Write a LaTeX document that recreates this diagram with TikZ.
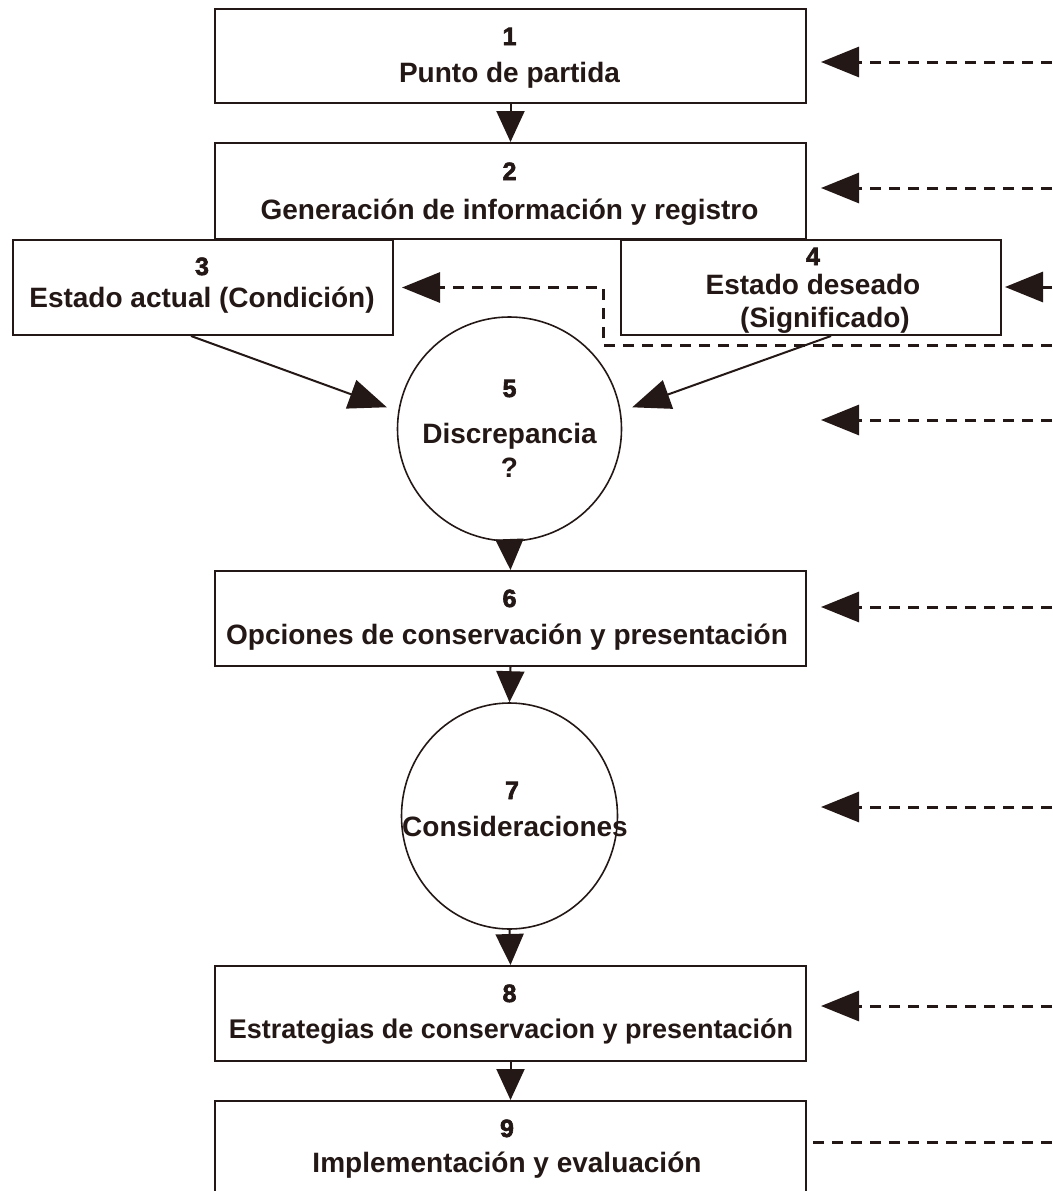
\documentclass[tikz,border=0pt]{standalone}
\usepackage{fontspec}
\setmainfont{Liberation Sans}
\newfontfamily\numfont[UprightFont={* Bold},FakeBold=2.5]{Liberation Sans}
\usetikzlibrary{arrows.meta,shapes.geometric}
\definecolor{ink}{HTML}{231815}
\begin{document}
\begin{tikzpicture}[x=1pt,y=-1pt,
 box/.style={draw=ink,line width=2pt,fill=white,anchor=north west,inner sep=0pt},
 num/.style={anchor=base,text=ink,font=\numfont\fontsize{25}{27}\selectfont,inner sep=0pt},
 lab/.style={anchor=base,text=ink,font=\bfseries\fontsize{28}{30}\selectfont,inner sep=0pt},
 flow/.style={draw=ink,line width=2pt,-{Triangle[length=31pt,width=28pt]}},
 flowbig/.style={draw=ink,line width=2pt,-{Triangle[length=38pt,width=30pt]}},
 fb/.style={draw=ink,line width=3pt,dash pattern=on 11pt off 8pt,-{Triangle[length=38pt,width=30pt]}},
 fbline/.style={draw=ink,line width=3pt,dash pattern=on 11pt off 8pt},
]
\useasboundingbox (0,0) rectangle (1052,1191);
\clip (0,0) rectangle (1052,1191);

% boxes
\node[box,minimum width=591pt,minimum height=94pt] (b1) at (214,8) {};
\node[box,minimum width=591pt,minimum height=96pt] (b2) at (214,142) {};
\node[box,minimum width=380pt,minimum height=95pt] (b3) at (12,239) {};
\node[box,minimum width=380pt,minimum height=95pt] (b4) at (620,239) {};
\node[draw=ink,line width=1.6pt,circle,minimum size=224pt,inner sep=0pt] (c5) at (509.5,429) {};
\node[box,minimum width=591pt,minimum height=95pt] (b6) at (214,570) {};
\node[draw=ink,line width=1.6pt,ellipse,minimum width=216pt,minimum height=226pt,inner sep=0pt] (c7) at (509.5,816) {};
\node[box,minimum width=591pt,minimum height=95pt] (b8) at (214,965) {};
\node[box,minimum width=591pt,minimum height=100pt] (b9) at (214,1100) {};

% texts
\node[num] (t1n) at (509.5,45) {1};
\node[lab] (t1) at (509.5,82) {Punto de partida};
\node[num] (t2n) at (509.5,180) {2};
\node[lab] (t2) at (509.5,219) {Generación de información y registro};
\node[num] (t3n) at (202,275) {3};
\node[lab] (t3) at (202,307) {Estado actual (Condición)};
\node[num] (t4n) at (813,265) {4};
\node[lab] (t4a) at (813,294) {Estado deseado};
\node[lab] (t4b) at (825,327) {(Significado)};
\node[num] (t5n) at (509.5,397) {5};
\node[lab] (t5) at (509.5,443) {Discrepancia};
\node[lab] (t5q) at (509.5,477) {?};
\node[num] (t6n) at (509.5,607) {6};
\node[lab] (t6) at (507,644) {Opciones de conservación y presentación};
\node[num] (t7n) at (512,799) {7};
\node[lab] (t7) at (515,836) {Consideraciones};
\node[num] (t8n) at (509.5,1002) {8};
\node[lab,font=\bfseries\fontsize{27}{29}\selectfont] (t8) at (511,1038) {Estrategias de conservacion y presentación};
\node[num] (t9n) at (507,1137) {9};
\node[lab] (t9) at (507,1172) {Implementación y evaluación};

% main flow
\draw[flow] (b1.south) -- (b2.north);
\draw[flowbig,shorten >=12pt] ([xshift=-12pt]b3.south) -- (c5.171);
\draw[flowbig,shorten >=12pt] ([xshift=20pt]b4.south) -- (c5.9);
\draw[flow] (c5.south) -- (b6.north);
\draw[flow] (b6.south) -- (c7.north);
\draw[flow] (c7.south) -- (b8.north);
\draw[flow] (b8.south) -- (b9.north);

% feedback (right side)
\coordinate (r1) at (1052,62);
\coordinate (r2) at (1052,188);
\coordinate (r3) at (1052,287);
\coordinate (r4) at (1052,345);
\coordinate (r5) at (1052,420);
\coordinate (r6) at (1052,607);
\coordinate (r7) at (1052,807);
\coordinate (r8) at (1052,1006);
\coordinate (r9) at (1052,1142);
\coordinate (k) at (603,345);

\draw[fb] (r1) -- ([xshift=14pt]b1.east |- r1);
\draw[fb] (r2) -- ([xshift=14pt]b2.east |- r2);
\draw[fb] (r3) -- ([xshift=3pt]b4.east |- r3);
\draw[fb] (r4) -- (k) |- ([xshift=8pt]b3.east);
\draw[fb] (r5) -- ([xshift=14pt]b6.east |- r5);
\draw[fb] (r6) -- ([xshift=14pt]b6.east |- r6);
\draw[fb] (r7) -- ([xshift=14pt]b8.east |- r7);
\draw[fb] (r8) -- ([xshift=14pt]b8.east |- r8);
\draw[fbline] (r9) -- (b9.east |- r9);
\end{tikzpicture}
\end{document}
